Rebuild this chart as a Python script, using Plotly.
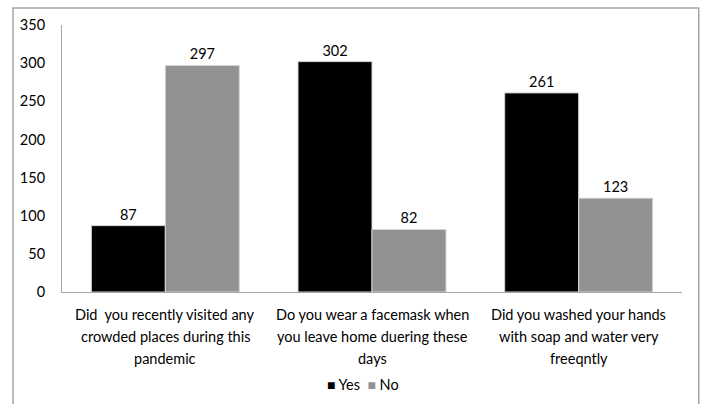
import plotly.graph_objects as go

categories = [
    "Did  you recently visited any<br>crowded places during this<br>pandemic",
    "Do you wear a facemask when<br>you leave home duering these<br>days",
    "Did you washed your hands<br>with soap and water very<br>freeqntly",
]
yes_values = [87, 302, 261]
no_values = [297, 82, 123]
y_ticks = [0, 50, 100, 150, 200, 250, 300, 350]
series_names = ["Yes", "No"]
series_colors = ["#000000", "#929292"]

FONT = "Lato"
FS = 14.5

fig = go.Figure()
for name, vals, col in zip(series_names, [yes_values, no_values], series_colors):
    fig.add_trace(go.Bar(
        name=name, x=categories, y=vals,
        marker=dict(color=col, line=dict(color="#d4d4d4", width=1)),
        text=[str(v) for v in vals], textposition="outside",
        textfont=dict(color="#000000", size=FS, family=FONT), cliponaxis=False,
        showlegend=False,
    ))

annotations = []
# category labels, line by line (wider line spacing like the reference)
for cat in categories:
    for i, line in enumerate(cat.split("<br>")):
        annotations.append(dict(
            x=cat, xref="x", y=0, yref="paper", yshift=-22 - 22 * i,
            text=line.replace("  ", "&nbsp; "), showarrow=False,
            xanchor="center", yanchor="middle",
            font=dict(size=FS, family=FONT, color="#000000"),
        ))
# legend
legend_text = "&nbsp;&nbsp;".join(
    f"<span style='color:{c}; font-size:14px'>■</span> {n}" for n, c in zip(series_names, series_colors)
)
annotations.append(dict(
    x=0.485, xref="paper", y=-0.345, yref="paper", text=legend_text, showarrow=False,
    xanchor="center", yanchor="middle", font=dict(size=FS, family=FONT, color="#000000"),
))

fig.update_layout(
    width=702, height=404,
    margin=dict(l=62, r=20, t=25, b=112),
    paper_bgcolor="white", plot_bgcolor="white",
    font=dict(family=FONT, size=FS, color="#000000"),
    barmode="group", bargap=0.284, bargroupgap=0,
    showlegend=False,
    annotations=annotations,
    shapes=[dict(type="rect", xref="paper", yref="paper",
                 x0=-0.079, x1=1.027, y0=-0.45, y1=1.0637,
                 line=dict(color="#a6a6a6", width=1.5), fillcolor="rgba(0,0,0,0)", layer="below")],
)
fig.update_yaxes(range=[0, 350], tickvals=y_ticks, showgrid=False, zeroline=False,
                 showline=True, linecolor="#a6a6a6", linewidth=1, ticks="",
                 ticklabelstandoff=13, tickfont=dict(size=FS, family=FONT), automargin=False)
fig.update_xaxes(showline=True, linecolor="#a6a6a6", linewidth=1, ticks="",
                 showticklabels=False, automargin=False)

fig.write_html("out.html")
